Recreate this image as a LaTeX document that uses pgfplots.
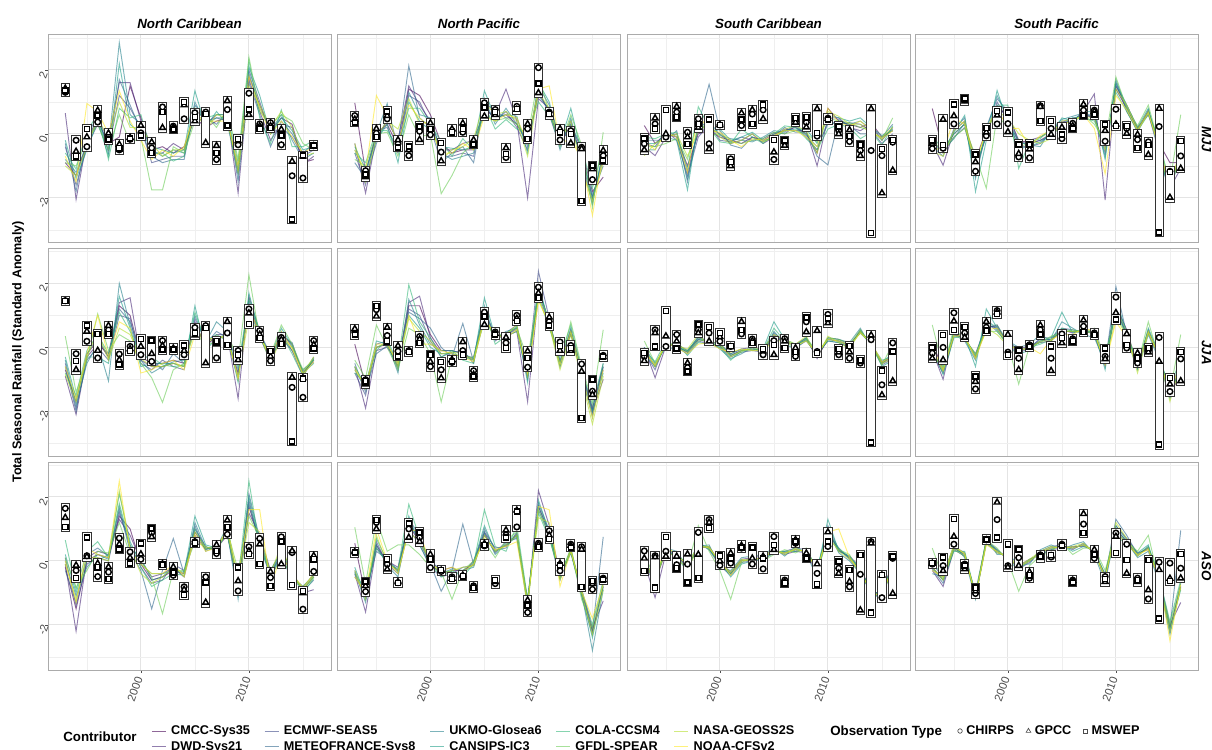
\documentclass[border=0pt]{standalone}
\usepackage{fontspec}
\setmainfont{Liberation Sans}
\usepackage{pgfplots}
\usepackage{pgfplotstable}
\pgfplotsset{compat=1.18}

% contributor colours (viridis)
\definecolor{vCMCC}{HTML}{440154}
\definecolor{vDWD}{HTML}{482878}
\definecolor{vECMWF}{HTML}{3E4A89}
\definecolor{vMETEO}{HTML}{31688E}
\definecolor{vUKMO}{HTML}{26828E}
\definecolor{vCANSIPS}{HTML}{1F9E89}
\definecolor{vCOLA}{HTML}{35B779}
\definecolor{vGFDL}{HTML}{6DCD59}
\definecolor{vNASA}{HTML}{B4DE2C}
\definecolor{vNOAA}{HTML}{FDE725}
\definecolor{tickgray}{HTML}{4D4D4D}
\definecolor{gridgray}{HTML}{E4E4E4}
\definecolor{framegray}{HTML}{ABABAB}

% white box spanning the observation range of one season
\pgfdeclareplotmark{obsbox}{%
  \pgfpathrectangle{\pgfpoint{-3.1pt}{-3.4pt}}{\pgfpoint{6.2pt}{\boxh pt+6.8pt}}%
  \pgfusepathqfillstroke}

\pgfplotsset{
  mline/.style={no markers, line width=0.7pt, draw opacity=0.6},
  obsmark/.style={only marks, mark options={draw=black, fill=white, line width=1.1pt}},
  obsboxes/.style={scatter, only marks, mark=obsbox,
    scatter/use mapped color={draw=black!80, fill=white},
    mark options={line width=0.75pt},
    visualization depends on={(max(\thisrow{C},\thisrow{G},\thisrow{M})-min(\thisrow{C},\thisrow{G},\thisrow{M}))*24 \as \boxh}},
  panel/.style={
    anchor=south west, scale only axis, width=212.25pt, height=156pt,
    xmin=1991.4, xmax=2017.6, ymin=-3.41, ymax=3.09,
    xtick={2000,2010}, minor xtick={1995,2005,2015},
    ytick={-2,0,2}, minor ytick={-3,-1,1,3},
    xticklabels={}, yticklabels={},
    grid=both,
    major grid style={draw=gridgray, line width=0.8pt},
    minor grid style={draw=gridgray!60, line width=0.4pt},
    axis line style={draw=framegray, line width=0.75pt},
    tick align=outside, tick pos=left,
    major tick length=2.2pt, minor tick length=0pt,
    xtick style={draw=none}, ytick style={draw=none},
    ticklabel style={font=\fontsize{8.5}{10}\selectfont, text=tickgray},
    yticklabel style={rotate=70, anchor=center, xshift=-4pt},
    xticklabel style={rotate=70, anchor=east},
    every axis title shift=0pt,
    title style={font=\bfseries\itshape\fontsize{10}{12}\selectfont, at={(0.5,1)}, anchor=south, inner sep=0pt, yshift=4.5pt},
  },
  leftcol/.style={yticklabels={-2,0,2}, ytick style={draw=tickgray, line width=0.5pt}},
  bottomrow/.style={xticklabels={2000,2010}, xtick style={draw=tickgray, line width=0.5pt}},
  rightcol/.style={extra description/.code={\node[rotate=-90, font=\bfseries\itshape\fontsize{10}{12}\selectfont] at (1.03,0.5) {#1};}},
}

\newcommand{\panel}[4]{%
\begin{axis}[panel, at={(#1)}, #4]
\addplot[mline, vCMCC] table[x=yr, y=c1] {#2};
\addplot[mline, vDWD] table[x=yr, y=c2] {#2};
\addplot[mline, vECMWF] table[x=yr, y=c3] {#2};
\addplot[mline, vMETEO] table[x=yr, y=c4] {#2};
\addplot[mline, vUKMO] table[x=yr, y=c5] {#2};
\addplot[mline, vCANSIPS] table[x=yr, y=c6] {#2};
\addplot[mline, vCOLA] table[x=yr, y=c7] {#2};
\addplot[mline, vGFDL] table[x=yr, y=c8] {#2};
\addplot[mline, vNASA] table[x=yr, y=c9] {#2};
\addplot[mline, vNOAA] table[x=yr, y=c10] {#2};
\addplot[obsboxes] table[x=yr, y expr={min(\thisrow{C},\thisrow{G},\thisrow{M})}] {#3};
\addplot[obsmark, mark=*, mark size=2.1pt] table[x=yr, y=C] {#3};
\addplot[obsmark, mark=triangle*, mark size=2.5pt] table[x=yr, y=G] {#3};
\addplot[obsmark, mark=square*, mark size=1.9pt] table[x=yr, y=M] {#3};
\end{axis}}

% ---------------- forecasts: North Caribbean ----------------
\pgfplotstableread{
yr c1 c2 c3 c4 c5 c6 c7 c8 c9 c10
1993 -0.9 0.65 -0.4 -0.3 -0.8 -0.2 -0.6 -0.9 -1.0 -0.7
1994 -1.3 -2.05 -1.6 -1.8 -1.2 -1.4 -1.1 -1.0 -1.3 -1.5
1995 -0.3 -0.2 -0.4 -0.1 -0.3 -0.5 0.1 -0.2 -0.4 0.95
1996 0.4 0.5 0.3 0.6 0.5 0.4 0.6 0.3 0.5 0.7
1997 -0.3 -0.2 -0.5 -0.6 -0.4 -0.7 -0.8 -0.5 -0.15 0.0
1998 -0.1 1.6 1.2 1.7 2.85 2.2 0.8 0.6 1.0 1.35
1999 1.5 1.6 0.8 0.9 0.6 0.3 0.5 -0.3 0.2 0.4
2000 0.5 0.4 0.2 0.1 0.3 0.0 0.6 -0.1 0.2 -0.2
2001 -0.5 -0.6 -0.9 -0.7 -0.5 -0.4 -0.6 -1.75 -0.3 -0.8
2002 -0.4 -0.6 -0.8 -0.9 -0.7 -0.5 -0.6 -1.75 -0.7 -0.5
2003 -0.6 -0.3 -0.7 -0.8 -0.5 -0.6 -0.85 -0.4 -0.5 -0.7
2004 -0.4 -0.5 -0.7 -0.8 -0.6 -0.5 -0.7 -0.6 -0.5 -0.4
2005 0.5 0.6 0.8 0.9 1.0 1.35 0.7 0.4 0.8 0.6
2006 0.2 0.3 0.4 0.5 0.3 0.2 0.5 0.6 0.1 0.4
2007 0.4 0.6 0.5 0.3 0.5 0.7 0.6 0.2 0.6 0.4
2008 0.5 0.6 0.4 0.7 0.5 0.3 0.6 0.8 0.5 0.4
2009 -1.2 -1.85 -1.0 -1.5 -1.3 -1.1 -0.9 -0.8 -1.2 -1.0
2010 1.8 1.7 2.0 1.6 1.9 2.1 2.3 2.4 1.5 1.8
2011 0.9 0.7 1.0 0.6 0.8 1.2 0.5 0.7 0.9 0.8
2012 0.1 -0.2 0.0 -0.4 0.1 0.0 -0.3 0.3 0.2 0.0
2013 0.5 0.3 0.2 0.4 0.6 0.5 0.75 0.6 0.7 0.4
2014 0.3 0.2 -0.1 0.0 -0.2 0.1 -0.4 0.4 0.2 -0.1
2015 -0.9 -0.95 -0.7 -0.6 -0.8 -0.5 -0.4 -0.3 -0.7 -0.6
2016 -0.8 -0.7 -0.5 -0.3 -0.6 -0.4 -0.2 -0.5 -0.6 -0.4
}\NCmjj
\pgfplotstableread{
yr c1 c2 c3 c4 c5 c6 c7 c8 c9 c10
1993 -0.7 -0.9 -0.5 -0.6 -0.4 -0.3 -0.8 0.35 -0.85 -0.6
1994 -1.7 -2.1 -1.9 -2.0 -1.8 -1.6 -1.5 -1.4 -1.7 -1.6
1995 -0.2 -0.3 -0.4 -0.2 -0.5 -0.3 -0.1 -0.4 -0.3 -0.2
1996 0.2 0.1 0.0 0.3 0.1 -0.3 0.4 1.05 0.5 1.0
1997 -0.3 -0.2 -0.4 -0.3 -1.05 -0.5 -0.2 -0.1 -0.4 -0.3
1998 1.3 1.4 1.0 1.2 2.0 1.6 1.1 0.4 0.6 0.8
1999 1.0 1.55 0.9 0.8 0.7 0.6 0.5 0.2 0.4 0.6
2000 -0.3 -0.4 -0.5 -0.2 -0.4 -0.6 -0.3 -0.5 -0.35 -0.8
2001 -0.5 -0.6 -0.7 -0.4 -0.8 -0.5 -0.3 -0.95 -0.6 -0.7
2002 -0.5 -0.6 -0.4 -0.7 -0.6 -0.5 -0.55 -1.72 -0.6 -0.5
2003 -0.4 -0.5 -0.6 -0.2 -0.45 -0.5 -0.6 -0.7 -0.5 -0.4
2004 -0.5 -0.6 -0.7 -0.5 -0.4 -0.6 -0.55 -0.5 -0.6 -0.7
2005 0.7 0.8 0.9 0.6 1.0 1.3 1.1 0.5 0.7 0.4
2006 0.1 0.0 0.2 0.1 0.15 -0.1 0.2 0.05 0.1 0.25
2007 0.3 0.4 0.3 0.5 0.8 0.3 0.4 0.2 0.35 0.3
2008 0.3 0.4 0.35 0.3 0.5 0.4 0.2 0.45 0.3 0.35
2009 -0.8 -1.6 -0.9 -1.0 -0.7 -1.1 -0.6 -0.4 -0.9 -1.0
2010 1.3 1.6 1.5 1.4 1.2 1.7 1.5 2.27 0.9 1.3
2011 0.4 0.5 0.3 0.45 0.35 0.4 0.5 0.3 0.45 0.4
2012 -0.3 -0.4 -0.35 -0.2 -0.45 -0.3 -0.4 -0.25 -0.5 -0.35
2013 0.4 0.3 0.5 0.35 0.45 0.6 0.4 0.7 0.3 0.5
2014 0.1 -0.1 0.0 0.15 -0.1 0.05 -0.2 0.1 0.0 -0.05
2015 -0.8 -0.9 -0.75 -0.85 -0.7 -0.8 -0.9 -0.7 -0.8 -0.85
2016 -0.4 -0.35 -0.45 -0.3 -0.4 -0.5 -0.35 -0.4 -0.3 -0.45
}\NCjja
\pgfplotstableread{
yr c1 c2 c3 c4 c5 c6 c7 c8 c9 c10
1993 -0.2 -0.1 0.1 -0.3 0.0 0.2 0.65 0.1 -0.1 0.0
1994 -1.5 -2.2 -1.4 -1.3 -1.1 -1.0 -0.9 -0.83 -1.2 -1.3
1995 0.0 0.1 -0.1 0.2 -0.2 0.0 0.3 -0.3 0.1 0.4
1996 0.2 0.3 0.1 0.4 0.2 0.0 0.6 0.3 0.1 0.2
1997 0.1 0.2 0.0 0.15 0.05 0.2 0.1 0.25 0.0 0.1
1998 1.4 1.3 1.5 1.6 1.7 2.1 1.8 1.2 2.2 2.5
1999 1.0 0.8 0.5 0.3 0.4 0.6 0.5 0.2 0.4 0.3
2000 -0.1 0.0 -0.2 -0.3 0.1 -0.1 -0.2 0.0 -0.4 -0.1
2001 -0.6 -0.5 -0.7 -1.5 -0.6 -0.4 -0.8 -0.5 -0.7 -0.4
2002 -0.5 -0.4 -0.6 -0.3 -0.5 -0.4 -0.6 -1.65 -0.5 -0.4
2003 -0.3 -0.2 -0.1 0.7 -0.2 -0.3 -0.4 -0.3 -0.2 -0.1
2004 -0.4 -0.5 -0.3 -0.4 -0.5 -0.35 -0.45 -0.3 -0.4 -0.5
2005 0.9 0.8 1.0 1.1 1.2 1.4 1.0 0.6 0.9 0.8
2006 0.4 0.35 0.45 0.3 0.4 0.5 0.35 0.45 0.4 0.3
2007 0.4 0.5 0.3 0.45 0.35 0.4 0.5 0.3 0.45 0.4
2008 0.8 0.9 1.0 0.85 0.9 1.1 0.8 0.95 0.9 1.0
2009 -0.6 -0.8 -0.7 -0.9 -1.2 -0.7 -0.6 -0.3 -0.7 -0.5
2010 1.7 1.5 1.9 2.1 1.8 2.0 2.5 1.4 1.2 1.6
2011 0.6 0.8 0.5 0.7 0.5 0.6 0.4 0.7 0.9 1.6
2012 -0.4 -0.3 -0.5 -0.35 -0.45 -0.4 -0.3 -0.5 -0.4 -0.8
2013 0.2 0.3 0.1 0.25 0.15 0.2 0.3 0.1 0.5 0.2
2014 -0.4 -0.3 -0.5 -0.35 -0.6 -0.4 -0.3 -0.5 -0.45 -0.4
2015 -0.9 -1.0 -0.8 -0.95 -0.85 -0.9 -1.0 -0.8 -0.9 -0.85
2016 -0.5 -0.9 -0.45 -0.6 -0.4 -0.5 -0.55 -0.45 -0.5 -0.4
}\NCaso
% ---------------- forecasts: North Pacific ----------------
\pgfplotstableread{
yr c1 c2 c3 c4 c5 c6 c7 c8 c9 c10
1993 0.97 -0.3 -0.6 -0.9 -0.5 -0.4 -0.6 -0.8 -0.3 -0.5
1994 -1.2 -1.85 -1.6 -1.4 -1.3 -1.1 -0.9 -1.0 -1.5 -1.2
1995 0.0 -0.1 0.1 -0.3 0.0 -0.2 0.1 0.0 -0.1 1.2
1996 0.3 0.4 0.2 0.5 0.95 0.3 0.1 0.05 0.4 0.55
1997 -0.4 -0.2 -0.6 -0.3 -0.5 -0.9 -0.4 -0.7 0.15 -0.3
1998 1.4 1.5 1.2 2.13 1.3 1.0 0.8 0.6 1.1 0.9
1999 1.2 0.9 1.0 0.5 0.6 0.4 0.8 -0.1 0.3 0.5
2000 0.6 0.4 0.3 0.2 0.5 0.1 0.3 0.0 0.4 0.2
2001 -0.3 -0.5 -0.7 -0.9 -0.6 -0.4 -0.25 -1.87 -0.8 -0.6
2002 -0.6 -0.5 -0.7 -0.6 -0.8 -0.45 -0.7 -1.3 -0.5 -0.6
2003 -0.5 -0.3 -0.6 -0.4 -0.7 -0.5 -0.15 -0.6 -0.4 -0.3
2004 -0.5 -0.2 -0.7 -0.9 -0.6 -0.4 -0.5 -0.3 -0.15 -0.5
2005 0.8 0.7 0.9 1.0 1.1 1.35 0.9 0.6 1.0 0.55
2006 0.5 0.6 0.4 0.7 0.3 0.5 0.15 0.4 0.6 0.4
2007 0.6 1.4 0.7 0.5 0.8 0.6 0.45 0.5 0.7 0.6
2008 0.3 0.4 0.2 0.5 0.3 0.55 0.15 0.3 0.4 0.5
2009 -0.3 -2.0 -0.5 -0.4 -0.2 -0.6 0.05 -0.1 -0.7 -0.3
2010 1.3 1.1 1.4 1.5 1.2 1.6 1.0 1.8 1.3 1.4
2011 0.7 0.8 0.6 0.9 0.75 1.0 0.55 0.7 0.8 1.5
2012 -0.3 -0.2 -0.4 -0.1 -0.5 -0.3 -0.05 -0.4 -0.2 -0.3
2013 0.3 0.1 0.4 0.2 0.5 0.8 0.3 0.6 0.4 -0.15
2014 -0.5 -0.6 -0.8 -0.7 -0.9 -0.6 -0.4 -0.35 -1.1 -0.8
2015 -1.8 -2.0 -2.1 -1.9 -2.2 -2.0 -1.7 -2.3 -2.1 -2.55
2016 -1.35 -0.8 -0.6 -1.0 -0.5 -0.7 -0.4 0.05 -0.9 -0.6
}\NPmjj
\pgfplotstableread{
yr c1 c2 c3 c4 c5 c6 c7 c8 c9 c10
1993 0.1 -0.6 -0.8 -0.5 -0.7 -0.6 -0.8 -0.4 -0.6 -0.7
1994 -1.2 -1.9 -1.5 -1.4 -1.3 -1.2 -1.1 -0.96 -1.3 -1.2
1995 0.0 -0.1 0.1 -0.2 0.0 0.2 -0.1 0.7 0.0 0.1
1996 0.1 0.0 0.2 0.05 0.15 0.1 0.25 0.0 0.15 0.1
1997 -0.6 -0.5 -0.7 -0.4 -0.8 -0.6 -0.5 -0.7 -0.6 -0.5
1998 1.3 1.4 1.2 1.1 1.5 1.0 1.96 0.6 0.9 1.0
1999 1.3 1.6 1.0 0.9 0.7 0.6 0.8 0.4 0.5 0.1
2000 0.4 0.3 0.2 0.6 0.1 0.0 0.3 -0.2 0.2 0.1
2001 -0.1 -0.2 -0.3 0.0 -0.1 -0.2 -0.3 -1.7 -0.2 -0.1
2002 -0.1 -0.2 -0.15 -0.3 -0.1 -0.2 -0.1 -0.3 -0.15 -0.2
2003 -0.2 -0.3 -0.1 0.75 -0.2 -0.3 -0.4 -0.35 -0.2 -0.3
2004 -0.4 -0.3 -0.5 -0.45 -0.35 -0.4 -0.5 -0.3 -0.4 -0.45
2005 1.0 1.1 1.2 0.9 1.3 1.55 1.2 0.8 1.0 0.9
2006 0.3 0.4 0.2 0.35 0.25 0.3 0.1 0.35 0.3 0.4
2007 0.4 0.35 0.45 0.4 0.5 0.4 0.35 0.45 0.4 0.3
2008 0.6 0.5 0.7 0.55 0.6 0.65 0.5 0.6 0.7 0.55
2009 -0.9 -1.7 -0.8 -1.0 -0.7 -1.1 -0.6 -0.35 -0.9 -0.8
2010 1.8 1.7 2.38 1.9 1.8 2.0 1.6 1.7 1.5 1.45
2011 0.8 0.7 0.9 0.75 0.8 0.7 0.6 0.85 0.7 0.75
2012 -0.5 -0.4 -0.6 -0.5 -0.45 -0.6 -0.3 -0.5 -0.7 -0.55
2013 0.5 0.4 0.55 0.45 0.6 0.5 0.7 0.8 0.4 0.5
2014 -0.7 -0.8 -0.9 -0.75 -0.85 -0.9 -0.7 -0.6 -1.0 -0.8
2015 -1.9 -2.0 -2.1 -1.95 -2.2 -2.0 -1.8 -1.7 -2.4 -2.2
2016 -0.6 -1.0 -0.7 -0.5 -0.6 -0.8 -0.5 0.55 -0.9 -0.7
}\NPjja
\pgfplotstableread{
yr c1 c2 c3 c4 c5 c6 c7 c8 c9 c10
1993 0.55 -0.4 -0.3 -0.5 -0.35 -0.2 -0.4 1.05 -0.3 -0.5
1994 -1.1 -1.6 -1.2 -1.0 -1.3 -1.1 -0.9 -0.73 -1.2 -1.0
1995 0.5 0.4 0.6 0.3 0.5 0.7 0.4 1.3 0.8 1.0
1996 -0.05 0.0 -0.1 0.05 -0.15 0.0 -0.05 0.3 -0.1 0.0
1997 -0.3 -0.2 -0.4 -0.3 -0.5 -0.35 -0.25 0.5 -0.3 -0.4
1998 1.1 1.2 1.0 1.3 1.2 1.4 1.77 0.5 0.9 1.0
1999 0.6 0.7 0.5 0.8 0.6 0.5 0.7 0.2 0.6 0.9
2000 -0.1 0.0 -0.2 -0.1 0.05 -0.15 -0.1 -0.2 0.0 -0.1
2001 -0.4 -0.3 -0.5 -0.95 -0.4 -0.3 -0.5 -0.35 -0.4 -0.3
2002 -0.3 -0.2 -0.4 -0.3 -0.25 -0.35 -0.3 -1.2 -0.3 -0.2
2003 -0.3 -0.4 -0.2 1.15 -0.3 -0.4 -0.5 -0.3 -0.2 -0.35
2004 -0.1 0.0 -0.15 -0.1 -0.2 -0.05 -0.1 0.0 -0.15 -0.1
2005 0.8 0.9 0.85 1.0 0.9 1.1 1.6 0.6 0.8 0.7
2006 0.3 0.4 0.25 0.35 0.2 0.3 0.45 0.1 0.3 0.35
2007 0.5 0.45 0.6 0.4 0.55 0.5 0.3 0.65 0.5 0.45
2008 0.8 0.85 0.7 0.9 0.8 0.75 1.1 0.9 0.8 0.6
2009 -1.3 -1.4 -1.2 -1.35 -1.3 -1.45 -1.2 -1.25 -1.3 -1.4
2010 1.7 2.2 1.6 1.8 1.7 1.9 1.5 1.6 1.35 1.7
2011 0.9 1.1 0.8 0.95 0.85 0.9 0.7 0.8 1.2 1.6
2012 -0.5 -0.4 -0.6 -0.45 -0.5 -0.55 -0.4 -0.5 -0.6 -0.8
2013 0.3 0.25 0.35 0.3 0.4 0.25 0.3 0.35 0.4 0.3
2014 -1.0 -0.9 -1.1 -0.95 -1.0 -1.05 -0.9 -1.2 -1.0 -0.95
2015 -2.2 -2.1 -2.3 -2.2 -2.8 -2.4 -2.0 -2.1 -2.3 -1.8
2016 -0.8 -1.25 -0.7 0.75 -0.9 -0.8 -0.6 -0.7 -0.9 -0.75
}\NPaso
% ---------------- forecasts: South Caribbean ----------------
\pgfplotstableread{
yr c1 c2 c3 c4 c5 c6 c7 c8 c9 c10
1993 0.26 -0.4 -0.3 -0.2 -0.5 -0.3 -0.1 -0.4 -0.68 -0.2
1994 -0.3 -0.68 -0.4 -0.2 -0.5 -0.3 -0.15 -0.4 -0.3 -0.5
1995 0.0 -0.1 0.1 -0.2 0.15 -0.1 0.0 -0.3 -0.1 0.05
1996 -0.1 0.0 -0.2 0.1 -0.1 -0.2 0.05 -0.15 0.0 -0.1
1997 -1.0 -1.2 -1.3 -1.5 -1.4 -1.75 -1.1 -0.8 -0.7 -1.2
1998 0.0 0.1 -0.1 0.3 0.2 0.4 0.85 0.5 0.1 0.6
1999 0.1 0.2 0.3 1.55 0.4 0.0 0.2 -0.05 0.3 0.1
2000 -0.1 0.0 -0.2 0.1 -0.05 0.15 -0.25 0.0 -0.1 0.05
2001 -0.2 -0.3 -0.25 -0.35 -0.15 -0.2 -0.3 -0.25 -0.3 -0.2
2002 -0.3 -0.2 -0.1 -0.45 -0.2 -0.1 0.15 -0.3 -0.2 -0.4
2003 -0.1 0.0 -0.2 -0.1 -0.25 0.05 -0.1 -0.2 0.0 -0.15
2004 -0.2 -0.3 -0.15 -0.25 -0.1 -0.2 -0.3 -0.15 -0.25 -0.2
2005 0.0 -0.1 0.05 -0.05 0.1 -0.15 0.0 0.05 -0.1 -0.05
2006 0.1 0.15 0.0 0.2 0.05 0.1 0.25 0.0 0.15 0.1
2007 0.2 0.1 0.25 0.05 0.3 0.15 0.2 0.1 0.25 0.1
2008 0.0 0.1 -0.1 0.05 -0.05 0.15 -0.15 0.0 0.1 -0.1
2009 -0.6 -1.0 -0.5 -0.7 -0.4 -0.3 -0.5 -0.25 -0.6 -0.4
2010 0.8 0.5 0.4 -0.97 0.3 0.6 0.15 0.5 0.7 0.8
2011 0.4 0.5 0.3 0.45 0.35 0.5 0.3 0.4 0.55 0.35
2012 0.3 0.2 0.35 0.25 0.3 0.4 0.2 0.35 0.3 0.25
2013 0.2 0.1 0.3 0.0 0.4 0.5 -0.15 0.2 0.3 0.4
2014 0.35 0.3 0.1 0.0 0.15 0.2 0.05 0.1 0.0 0.1
2015 -0.1 -0.2 -0.3 -0.1 -0.15 -0.05 -0.35 -0.2 -0.1 -0.15
2016 0.1 0.2 0.0 0.3 0.15 0.1 0.25 0.5 0.2 0.1
}\SCmjj
\pgfplotstableread{
yr c1 c2 c3 c4 c5 c6 c7 c8 c9 c10
1993 -0.1 0.0 -0.15 -0.1 0.0 -0.2 -0.1 0.2 -0.05 -0.15
1994 -0.6 -0.95 -0.7 -0.55 -0.5 -0.6 -0.45 -0.5 -0.6 -0.55
1995 0.1 0.05 0.15 0.1 0.0 0.1 0.2 0.05 0.1 0.15
1996 0.05 0.1 0.0 0.05 -0.05 0.1 0.0 0.15 0.05 0.0
1997 -0.15 -0.1 -0.2 -0.15 -0.1 -0.25 -0.1 -0.15 -0.05 -0.2
1998 0.25 0.3 0.2 0.35 0.25 0.15 0.3 0.2 0.4 0.1
1999 0.15 0.2 0.1 0.15 0.2 0.1 0.15 0.25 0.05 0.15
2000 0.05 0.1 0.0 0.05 -0.05 0.1 0.0 0.05 0.1 -0.05
2001 -0.25 -0.2 -0.3 -0.25 -0.35 -0.2 -0.4 -0.25 -0.3 -0.15
2002 -0.1 -0.05 -0.15 -0.1 -0.2 -0.05 -0.1 -0.15 -0.1 -0.05
2003 -0.05 0.0 -0.1 -0.05 0.0 -0.1 -0.05 0.05 -0.05 -0.1
2004 -0.1 -0.05 -0.15 -0.1 -0.2 -0.05 -0.1 -0.15 -0.05 -0.1
2005 0.3 0.4 0.35 0.45 0.5 0.8 0.6 0.3 0.4 0.2
2006 0.2 0.15 0.25 0.2 0.1 0.25 0.2 0.15 0.25 0.2
2007 0.05 0.1 0.0 0.05 -0.05 0.1 0.05 0.0 0.1 0.05
2008 0.25 0.3 0.2 0.3 0.25 0.2 0.3 0.25 0.35 0.2
2009 -0.3 -0.35 -0.2 -0.25 -0.3 -0.2 -0.15 -0.25 -0.3 -0.2
2010 0.25 0.3 0.2 0.25 0.3 0.2 0.25 0.3 0.35 0.25
2011 0.2 0.25 0.15 0.2 0.25 0.15 0.2 0.25 0.15 0.2
2012 0.05 0.1 0.0 0.05 0.15 0.0 0.05 0.1 -0.05 0.05
2013 0.5 0.45 0.55 0.5 0.6 0.5 0.45 0.55 0.5 0.45
2014 0.1 0.15 0.05 0.1 0.0 0.15 0.1 0.05 0.1 0.15
2015 -0.45 -0.5 -0.55 -0.5 -0.45 -0.6 -0.4 -0.55 -0.5 -0.45
2016 -0.3 -0.25 -0.35 -0.3 -0.2 -0.4 -0.3 0.1 -0.35 -0.3
}\SCjja
\pgfplotstableread{
yr c1 c2 c3 c4 c5 c6 c7 c8 c9 c10
1993 -0.1 -0.05 -0.15 -0.1 0.0 -0.2 -0.1 0.2 -0.1 -0.05
1994 -0.6 -1.15 -0.7 -0.5 -0.6 -0.5 -0.4 -0.55 -0.6 -0.5
1995 0.3 0.25 0.35 0.3 0.4 0.3 0.25 0.35 0.3 0.45
1996 0.2 0.15 0.25 0.2 0.3 0.15 0.2 0.25 0.1 0.2
1997 -0.2 -0.15 -0.25 -0.3 -0.2 -0.35 -0.1 -0.2 -0.25 -0.15
1998 0.5 0.4 0.55 0.5 0.45 0.6 0.5 1.1 0.4 0.5
1999 0.4 0.45 0.35 0.4 0.5 0.35 0.4 0.3 0.45 0.4
2000 -0.1 -0.05 -0.15 -0.1 -0.2 -0.05 -0.1 -0.3 -0.1 0.0
2001 -0.4 -0.35 -0.45 -0.4 -0.3 -0.5 -0.4 -1.2 -0.35 -0.45
2002 0.0 0.05 -0.05 0.0 0.1 -0.1 0.0 -0.05 0.05 0.0
2003 0.05 0.1 0.0 0.05 0.15 0.0 0.05 0.1 0.0 0.05
2004 0.1 0.15 0.05 0.1 0.2 0.05 0.1 0.0 0.15 0.1
2005 0.3 0.35 0.25 0.3 0.4 0.25 0.3 0.2 0.35 0.3
2006 0.25 0.2 0.3 0.25 0.15 0.3 0.25 0.35 0.2 0.25
2007 0.35 0.3 0.4 0.35 0.45 0.3 0.35 0.25 0.4 0.35
2008 0.3 0.25 0.35 0.3 0.2 0.35 0.3 0.4 0.25 0.3
2009 -0.3 -0.4 -0.25 -0.3 -0.5 -0.35 -0.2 -0.3 -0.25 -0.3
2010 0.9 1.0 0.85 1.1 0.95 1.3 0.9 0.7 0.8 0.9
2011 0.35 0.3 0.4 0.35 0.25 0.3 0.4 0.35 0.3 1.0
2012 0.1 0.15 0.05 0.1 0.0 0.15 0.1 0.2 0.05 0.1
2013 -0.3 -0.2 -0.35 -0.25 -0.4 -0.3 -0.2 -0.5 -0.3 -0.35
2014 -0.9 -1.0 -0.95 -1.1 -1.0 -0.9 -1.05 -0.85 -1.0 -0.95
2015 -1.1 -1.0 -1.15 -1.05 -1.2 -1.1 -1.0 -1.25 -1.1 -1.15
2016 -0.1 -0.05 -0.15 -0.1 0.0 -0.2 -0.1 -0.05 -0.15 -0.1
}\SCaso
% ---------------- forecasts: South Pacific ----------------
\pgfplotstableread{
yr c1 c2 c3 c4 c5 c6 c7 c8 c9 c10
1993 0.79 -0.3 -0.2 -0.4 -0.5 -0.3 -0.1 -0.2 -0.55 -0.35
1994 -0.5 -0.98 -0.6 -0.7 -0.5 -0.6 -0.46 -0.55 -0.7 -0.6
1995 0.0 0.1 -0.1 0.15 -0.15 0.05 0.0 -0.1 0.1 0.5
1996 0.3 0.4 0.2 0.5 0.35 0.58 0.3 0.17 0.4 0.3
1997 -0.8 -1.2 -1.0 -1.3 -1.4 -1.8 -1.1 -0.67 -0.9 -1.0
1998 0.1 0.0 -0.1 0.2 0.1 -0.2 0.0 -1.7 0.1 0.15
1999 0.8 0.9 1.0 1.1 1.2 1.36 0.9 0.58 0.7 0.8
2000 0.6 0.5 0.4 0.7 0.5 0.3 0.9 0.2 0.5 0.17
2001 -0.2 -0.3 -0.4 -0.3 -0.5 -0.2 -1.08 -0.4 0.0 0.17
2002 -0.3 -0.2 -0.4 -0.3 -0.35 -0.4 -0.25 -0.3 -0.2 -0.4
2003 -0.2 -0.1 -0.3 -0.2 -0.4 -0.25 -0.15 -0.1 -0.3 -0.05
2004 0.0 0.1 0.05 -0.1 0.15 0.0 0.2 0.05 -0.15 0.1
2005 0.3 0.4 0.35 0.3 0.45 0.5 0.25 0.35 0.4 0.3
2006 0.45 0.4 0.5 0.45 0.55 0.4 0.5 0.35 0.45 0.4
2007 0.6 0.7 0.55 0.6 0.65 0.7 0.5 0.6 0.55 0.6
2008 0.5 1.25 0.6 0.5 0.55 0.7 0.4 0.3 0.5 0.17
2009 -0.4 -2.07 -0.6 -0.5 -0.7 -0.8 -0.3 -0.25 -0.5 -1.25
2010 1.4 1.5 1.6 1.5 1.7 1.6 1.3 1.78 1.4 1.2
2011 0.8 0.9 0.7 0.85 0.75 0.9 0.7 0.8 0.9 0.75
2012 0.15 0.2 0.1 0.15 0.05 0.2 0.1 0.25 0.15 0.1
2013 0.7 0.6 0.75 0.65 0.7 0.8 0.6 0.9 0.7 0.65
2014 -0.3 -0.4 -0.5 -0.6 -0.3 -0.4 -0.2 -0.35 -0.5 -0.4
2015 -0.9 -1.7 -1.8 -1.9 -2.1 -2.0 -1.6 -1.5 -1.8 -1.7
2016 -0.9 -1.08 -0.5 -0.4 -0.2 -0.3 -0.6 0.6 -0.5 -0.4
}\SPmjj
\pgfplotstableread{
yr c1 c2 c3 c4 c5 c6 c7 c8 c9 c10
1993 0.15 -0.1 -0.2 -0.1 -0.15 -0.05 -0.2 0.7 -0.1 0.0
1994 -0.7 -1.0 -0.8 -0.75 -0.7 -0.85 -0.6 -0.65 -0.75 -0.7
1995 0.4 0.45 0.35 0.5 0.4 0.3 0.45 0.6 0.35 0.4
1996 0.3 0.25 0.35 0.3 0.2 0.35 0.3 0.25 0.3 0.35
1997 -0.3 -0.2 -0.35 -0.3 -0.4 -0.6 -0.25 -0.2 -0.3 -0.35
1998 0.6 0.7 0.65 0.8 0.9 1.2 0.7 0.5 0.6 0.55
1999 0.7 0.6 0.65 0.5 0.55 0.6 0.7 0.5 0.4 0.6
2000 0.1 0.15 0.05 0.1 0.2 0.0 0.15 0.1 0.05 0.1
2001 -0.1 -0.05 -0.15 -0.1 0.0 -0.2 -0.1 -1.15 -0.05 -0.1
2002 0.0 0.05 -0.05 0.0 0.1 -0.1 0.0 0.05 -0.05 0.0
2003 0.2 0.15 0.3 0.25 0.4 0.2 0.1 0.15 0.2 -0.2
2004 0.25 0.2 0.3 0.25 0.2 0.3 0.25 0.35 0.2 0.25
2005 0.5 0.55 0.6 0.5 0.8 1.1 0.6 0.45 0.5 0.4
2006 0.5 0.45 0.55 0.5 0.6 0.45 0.5 0.55 0.5 0.4
2007 0.5 0.55 0.45 0.5 0.4 0.5 0.55 0.45 0.5 0.6
2008 0.45 0.4 0.5 0.45 0.3 0.5 0.4 0.6 0.45 0.5
2009 -0.5 -0.6 -0.4 -0.5 -0.45 -0.7 -0.4 -0.35 -0.5 -0.55
2010 1.3 1.2 1.4 1.9 1.3 1.5 1.1 1.2 0.9 0.8
2011 0.55 0.4 0.35 0.4 0.3 0.45 0.35 0.5 0.4 0.3
2012 -0.6 -0.5 -0.65 -0.55 -0.7 -0.6 -0.5 -0.55 -0.8 -0.6
2013 0.5 0.45 0.55 0.5 0.4 0.6 0.5 0.8 0.45 0.5
2014 -0.3 -0.25 -0.35 -0.3 -0.4 -0.2 -0.3 -0.35 -0.25 -0.3
2015 -1.4 -1.5 -1.55 -1.45 -1.6 -1.5 -1.3 -1.4 -1.7 -1.5
2016 -0.9 -0.6 -0.5 -0.4 -0.5 -0.6 -0.3 0.4 -0.5 -0.4
}\SPjja
\pgfplotstableread{
yr c1 c2 c3 c4 c5 c6 c7 c8 c9 c10
1993 -0.2 -0.3 -0.1 -0.25 -0.4 -0.2 -0.1 0.4 -0.2 -0.3
1994 -0.6 -0.8 -0.5 -0.7 -0.5 -0.6 -0.4 -0.55 -0.6 -0.5
1995 0.4 0.35 0.45 0.4 0.5 0.3 0.45 0.35 0.4 0.5
1996 0.2 0.15 0.25 0.2 0.1 0.3 0.2 0.15 0.25 0.2
1997 -1.1 -1.0 -1.15 -1.1 -1.2 -1.05 -1.1 -1.0 -1.15 -1.1
1998 0.6 0.65 0.55 0.6 0.7 0.6 0.55 0.65 0.6 0.5
1999 0.3 0.35 0.25 0.3 0.2 0.35 0.3 0.4 0.25 0.3
2000 0.1 0.05 0.15 0.1 0.2 0.05 0.1 0.0 0.15 0.1
2001 -0.2 -0.15 -0.25 -0.2 -0.1 -0.3 -0.2 -0.95 -0.15 -0.2
2002 0.0 0.05 -0.05 0.0 -0.1 0.05 0.0 -0.15 0.05 0.0
2003 0.25 0.2 0.3 0.25 0.35 0.2 0.25 0.15 0.3 0.25
2004 0.4 0.35 0.45 0.4 0.5 0.35 0.4 0.3 0.45 0.4
2005 0.45 0.4 0.5 0.45 0.35 0.5 0.45 0.55 0.4 0.45
2006 0.4 0.45 0.35 0.4 0.5 0.3 0.4 0.2 0.45 0.4
2007 0.5 0.45 0.55 0.5 0.6 0.45 0.5 0.4 0.55 0.5
2008 0.3 0.35 0.25 0.3 0.2 0.35 0.3 0.4 0.25 0.3
2009 -0.5 -0.6 -0.4 -0.5 -0.7 -0.45 -0.5 -0.3 -0.55 -0.5
2010 1.0 1.1 0.9 1.3 1.0 1.1 0.8 0.9 1.2 0.9
2011 0.6 0.7 0.55 0.8 0.6 0.65 0.5 0.6 0.7 0.5
2012 0.2 0.25 0.15 0.2 0.1 0.25 0.2 0.3 0.15 0.2
2013 0.4 0.35 0.45 0.4 0.3 0.5 0.45 0.8 0.4 0.35
2014 -0.6 -0.5 -0.65 -0.55 -0.7 -0.6 -0.5 -0.65 -0.6 -0.55
2015 -2.1 -2.0 -2.2 -2.1 -2.3 -2.15 -1.9 -2.0 -2.2 -2.5
2016 -0.8 -1.3 -0.7 0.95 -0.8 -0.9 -0.6 -0.7 -0.85 -0.75
}\SPaso

% ---------------- observations: CHIRPS (C), GPCC (G), MSWEP (M) ----------------
\pgfplotstableread{
yr C G M
1993 1.30 1.42 1.35
1994 -0.20 -0.55 -0.70
1995 -0.40 -0.10 0.15
1996 0.37 0.73 0.57
1997 -0.08 0.02 -0.18
1998 -0.50 -0.33 -0.45
1999 -0.17 -0.12 -0.14
2000 0.03 0.26 -0.05
2001 -0.44 -0.26 -0.60
2002 0.84 0.19 0.68
2003 0.24 0.20 0.14
2004 0.47 0.90 1.00
2005 0.66 0.40 0.53
2006 0.68 -0.28 0.62
2007 -0.80 -0.37 -0.60
2008 0.76 1.03 0.26
2009 -0.34 -0.22 -0.16
2010 1.27 0.60 0.76
2011 0.31 0.24 0.16
2012 0.35 0.25 0.18
2013 -0.34 0.14 -0.05
2014 -1.31 -0.86 -2.67
2015 -1.38 -0.70 -0.68
2016 -0.37 -0.38 -0.36
}\NCmjjO
\pgfplotstableread{
yr C G M
1993 1.46 1.44 1.45
1994 -0.20 -0.70 -0.42
1995 0.19 0.50 0.68
1996 -0.33 -0.10 0.42
1997 0.55 0.68 0.42
1998 -0.21 -0.39 -0.54
1999 0.03 -0.05 -0.12
2000 -0.23 0.03 0.26
2001 -0.44 -0.20 0.21
2002 0.21 0.05 -0.07
2003 -0.05 -0.03 -0.07
2004 -0.23 -0.10 0.06
2005 0.62 0.38 0.45
2006 0.68 -0.49 0.60
2007 -0.33 0.10 0.19
2008 0.45 0.80 0.08
2009 -0.10 -0.39 -0.23
2010 1.20 1.07 0.73
2011 0.52 0.40 0.29
2012 -0.42 -0.28 -0.12
2013 0.31 0.24 0.11
2014 -1.25 -0.94 -2.94
2015 -1.56 -0.96 -0.98
2016 0.21 0.08 -0.04
}\NCjjaO
\pgfplotstableread{
yr C G M
1993 1.64 1.35 1.06
1994 -0.30 -0.14 -0.54
1995 0.16 0.13 0.73
1996 -0.49 -0.08 -0.20
1997 -0.35 -0.19 -0.57
1998 0.71 0.52 0.36
1999 0.28 0.10 -0.08
2000 0.05 0.21 0.54
2001 0.88 0.75 1.01
2002 -0.10 -0.10 -0.12
2003 -0.45 -0.19 -0.36
2004 -0.81 -0.90 -1.06
2005 0.60 0.58 0.55
2006 -0.50 -1.30 -0.68
2007 0.23 0.50 0.31
2008 0.83 1.27 1.05
2009 -0.94 -0.63 -0.21
2010 0.44 0.30 0.21
2011 0.70 0.52 -0.10
2012 -0.52 -0.34 -0.78
2013 0.75 -0.10 0.60
2014 0.26 0.31 -0.75
2015 -1.51 -1.00 -0.94
2016 -0.33 0.16 0.05
}\NCasoO
\pgfplotstableread{
yr C G M
1993 0.57 0.45 0.36
1994 -1.15 -1.35 -1.27
1995 0.02 0.16 -0.10
1996 0.47 0.57 0.70
1997 -0.31 -0.19 -0.42
1998 -0.68 -0.50 -0.39
1999 0.08 -0.18 0.23
2000 -0.03 0.34 0.15
2001 -0.57 -0.85 -0.29
2002 0.10 0.15 0.05
2003 0.05 0.33 0.16
2004 -0.26 -0.19 -0.33
2005 0.97 0.55 0.82
2006 0.76 0.60 0.68
2007 -0.74 -0.44 -0.63
2008 0.86 0.76 0.78
2009 0.16 0.31 -0.16
2010 2.07 1.28 1.58
2011 0.68 0.60 0.63
2012 -0.19 0.16 0.05
2013 0.10 -0.29 0.00
2014 -0.42 -0.47 -2.10
2015 -1.43 -1.10 -0.99
2016 -0.68 -0.52 -0.83
}\NPmjjO
\pgfplotstableread{
yr C G M
1993 0.48 0.58 0.40
1994 -1.01 -1.15 -1.06
1995 1.18 0.97 1.30
1996 0.37 0.62 0.19
1997 -0.12 0.05 -0.28
1998 -0.10 -0.12 -0.15
1999 0.34 0.25 0.14
2000 -0.60 -0.45 -0.23
2001 -0.70 -0.96 -0.46
2002 -0.47 -0.38 -0.44
2003 -0.10 0.17 -0.23
2004 -0.73 -0.85 -0.91
2005 1.10 0.71 0.97
2006 0.48 0.43 0.40
2007 0.14 0.31 -0.02
2008 1.00 0.90 0.83
2009 -0.62 -0.12 -0.33
2010 1.88 1.70 1.54
2011 0.81 0.94 0.68
2012 0.17 -0.10 0.05
2013 0.06 -0.10 -0.02
2014 -0.52 -0.75 -2.21
2015 -1.37 -1.48 -1.01
2016 -0.25 -0.30 -0.28
}\NPjjaO
\pgfplotstableread{
yr C G M
1993 0.27 0.28 0.26
1994 -0.96 -0.78 -0.65
1995 1.20 1.00 1.28
1996 -0.10 -0.26 0.05
1997 -0.68 -0.66 -0.69
1998 1.00 0.73 1.17
1999 0.73 0.60 0.89
2000 -0.21 0.20 0.05
2001 -0.33 -0.30 -0.29
2002 -0.50 -0.55 -0.57
2003 -0.47 -0.45 -0.48
2004 -0.78 -0.82 -0.85
2005 0.47 0.54 0.50
2006 -0.71 -0.65 -0.60
2007 0.81 0.96 0.73
2008 1.06 1.58 1.54
2009 -1.61 -1.23 -1.40
2010 0.55 0.50 0.44
2011 0.94 0.80 0.68
2012 -0.31 -0.08 -0.15
2013 0.52 0.48 0.42
2014 0.44 0.36 -0.81
2015 -0.89 -0.71 -0.63
2016 -0.54 -0.60 -0.58
}\NPasoO
\pgfplotstableread{
yr C G M
1993 -0.31 -0.50 -0.14
1994 0.31 0.49 0.16
1995 -0.10 0.00 0.75
1996 0.68 0.85 0.52
1997 0.05 -0.10 -0.31
1998 0.47 0.20 0.31
1999 -0.31 -0.47 0.45
2000 0.28 0.28 0.28
2001 -0.78 -1.00 -0.88
2002 0.26 0.65 0.45
2003 0.62 0.75 0.31
2004 0.75 0.47 0.91
2005 -0.80 -0.57 -0.19
2006 -0.28 -0.36 -0.21
2007 0.40 0.36 0.49
2008 0.36 0.21 0.52
2009 -0.07 0.78 0.03
2010 0.49 0.47 0.45
2011 0.10 0.00 0.23
2012 -0.24 0.12 -0.07
2013 -0.52 -0.68 -0.34
2014 -0.52 0.78 -3.10
2015 -0.68 -1.85 -0.47
2016 -0.26 -1.14 -0.19
}\SCmjjO
\pgfplotstableread{
yr C G M
1993 -0.28 -0.42 -0.18
1994 0.55 0.45 0.03
1995 0.03 0.35 1.13
1996 0.40 0.19 -0.04
1997 -0.63 -0.49 -0.75
1998 0.55 0.45 0.71
1999 0.45 0.19 0.63
2000 0.19 0.33 0.45
2001 0.03 0.01 0.05
2002 0.42 0.80 0.55
2003 0.26 0.20 0.14
2004 -0.23 -0.12 -0.05
2005 0.21 -0.23 0.08
2006 0.27 0.19 -0.02
2007 -0.28 -0.02 -0.15
2008 0.80 0.48 0.94
2009 -0.13 0.52 -0.18
2010 1.03 0.76 0.90
2011 -0.23 -0.15 -0.05
2012 -0.34 -0.15 0.05
2013 -0.49 -0.45 -0.39
2014 0.24 0.38 -2.97
2015 -1.17 -1.49 -0.73
2016 0.14 -1.05 -0.13
}\SCjjaO
\pgfplotstableread{
yr C G M
1993 0.31 0.08 -0.31
1994 0.16 0.12 -0.84
1995 0.30 0.14 0.74
1996 -0.12 0.14 -0.23
1997 -0.10 0.21 -0.67
1998 0.89 0.20 -0.54
1999 1.29 1.20 1.03
2000 -0.14 0.00 0.16
2001 -0.07 0.24 0.08
2002 0.40 0.48 0.42
2003 -0.10 0.08 0.42
2004 -0.25 0.14 0.08
2005 0.76 0.35 0.50
2006 -0.60 -0.65 -0.70
2007 0.55 0.66 0.60
2008 0.17 0.24 0.08
2009 -0.39 -0.10 -0.73
2010 0.45 0.90 0.60
2011 -0.23 -0.39 -0.02
2012 -0.81 -0.65 -0.28
2013 -0.42 -1.54 0.19
2014 0.60 0.55 -1.62
2015 -1.15 -0.45 -0.44
2016 0.08 -1.02 0.14
}\SCasoO
\pgfplotstableread{
yr C G M
1993 -0.46 -0.30 -0.20
1994 -0.45 0.45 -0.35
1995 0.31 0.56 0.92
1996 1.07 1.02 1.10
1997 -1.17 -0.88 -0.64
1998 -0.06 0.05 0.19
1999 0.31 0.58 0.71
2000 0.32 0.06 0.67
2001 -0.72 -0.62 -0.33
2002 -0.75 -0.48 -0.33
2003 0.88 0.85 0.40
2004 0.17 -0.02 0.40
2005 -0.15 0.20 -0.02
2006 0.33 0.25 0.17
2007 0.74 0.92 0.58
2008 0.74 0.70 0.60
2009 -0.23 0.10 0.29
2010 0.77 0.30 0.25
2011 0.17 0.01 0.25
2012 -0.18 -0.02 -0.44
2013 -0.25 -0.65 -0.35
2014 0.23 0.79 -3.08
2015 -1.17 -1.99 -1.19
2016 -0.69 -1.08 -0.22
}\SPmjjO
\pgfplotstableread{
yr C G M
1993 -0.18 -0.34 0.00
1994 0.00 -0.39 0.38
1995 1.08 0.82 0.55
1996 0.45 0.31 0.63
1997 -1.30 -1.07 -0.91
1998 0.63 0.80 0.52
1999 1.15 1.10 1.05
2000 -0.15 0.40 -0.23
2001 -0.34 -0.70 -0.10
2002 0.08 0.00 0.03
2003 0.55 0.69 0.40
2004 -0.34 -0.73 0.03
2005 0.42 0.14 0.29
2006 0.27 0.23 0.19
2007 0.66 0.85 0.48
2008 0.45 0.42 0.38
2009 -0.28 -0.36 -0.04
2010 1.57 1.08 0.87
2011 -0.02 0.42 0.08
2012 -0.49 -0.18 -0.34
2013 -0.10 -0.15 -0.02
2014 0.31 -0.44 -3.04
2015 -1.38 -1.15 -0.96
2016 -0.36 -1.05 -0.15
}\SPjjaO
\pgfplotstableread{
yr C G M
1993 -0.10 -0.08 -0.06
1994 -0.15 -0.31 0.10
1995 0.52 0.76 1.31
1996 -0.10 -0.25 -0.15
1997 -1.02 -0.95 -0.84
1998 0.66 0.65 0.67
1999 1.29 1.83 0.73
2000 -0.15 -0.20 0.52
2001 0.10 -0.15 0.35
2002 -0.54 -0.35 -0.45
2003 0.19 0.10 0.14
2004 0.12 0.15 0.19
2005 0.52 0.50 0.48
2006 -0.60 -0.62 -0.67
2007 1.15 1.47 0.87
2008 0.08 0.35 0.20
2009 -0.49 -0.65 -0.56
2010 0.87 0.76 0.24
2011 0.52 -0.39 0.03
2012 -0.54 -0.65 -0.60
2013 -1.19 -0.91 0.03
2014 -0.04 -0.28 -1.80
2015 -0.07 -0.55 -0.63
2016 -0.23 -0.54 0.21
}\SPasoO

\begin{document}
\begin{tikzpicture}
\path[use as bounding box] (0pt,0pt) rectangle (909pt,561.75pt);

% row 1: MJJ
\panel{36pt,379.5pt}{\NCmjj}{\NCmjjO}{title={North Caribbean}, leftcol}
\panel{253.125pt,379.5pt}{\NPmjj}{\NPmjjO}{title={North Pacific}}
\panel{470.25pt,379.5pt}{\SCmjj}{\SCmjjO}{title={South Caribbean}}
\panel{686.25pt,379.5pt}{\SPmjj}{\SPmjjO}{title={South Pacific}, rightcol=MJJ}
% row 2: JJA
\panel{36pt,219.375pt}{\NCjja}{\NCjjaO}{leftcol}
\panel{253.125pt,219.375pt}{\NPjja}{\NPjjaO}{}
\panel{470.25pt,219.375pt}{\SCjja}{\SCjjaO}{}
\panel{686.25pt,219.375pt}{\SPjja}{\SPjjaO}{rightcol=JJA}
% row 3: ASO
\panel{36pt,59.25pt}{\NCaso}{\NCasoO}{leftcol, bottomrow}
\panel{253.125pt,59.25pt}{\NPaso}{\NPasoO}{bottomrow}
\panel{470.25pt,59.25pt}{\SCaso}{\SCasoO}{bottomrow}
\panel{686.25pt,59.25pt}{\SPaso}{\SPasoO}{bottomrow, rightcol=ASO}

\node[rotate=90, font=\bfseries\fontsize{9.5}{11}\selectfont] at (13.5pt,297.75pt) {Total Seasonal Rainfall (Standard Anomaly)};

% legend: contributors
\node[anchor=west, font=\bfseries\fontsize{10}{12}\selectfont, inner sep=0pt] at (47.25pt,9pt) {Contributor};
\begin{axis}[at={(0pt,0pt)}, anchor=south west, scale only axis, width=909pt, height=561.75pt,
  hide axis, xmin=0, xmax=1, ymin=0, ymax=1,
  legend columns=5, legend cell align=left,
  legend image code/.code={\draw[#1, line width=0.9pt] (0pt,0pt) -- (10.5pt,0pt);},
  legend style={at={(0.1246,0.0334)}, anchor=north west, draw=none, fill=none, inner sep=0pt,
    font=\bfseries\fontsize{9.5}{11}\selectfont,
    nodes={inner xsep=3.5pt, inner ysep=1pt},
    row sep=1.5pt,
    /tikz/every even column/.append style={column sep=7pt}}]
\addlegendimage{mline, vCMCC}\addlegendentry{CMCC-Sys35}
\addlegendimage{mline, vECMWF}\addlegendentry{ECMWF-SEAS5}
\addlegendimage{mline, vUKMO}\addlegendentry{UKMO-Glosea6}
\addlegendimage{mline, vCOLA}\addlegendentry{COLA-CCSM4}
\addlegendimage{mline, vNASA}\addlegendentry{NASA-GEOSS2S}
\addlegendimage{mline, vDWD}\addlegendentry{DWD-Sys21}
\addlegendimage{mline, vMETEO}\addlegendentry{METEOFRANCE-Sys8}
\addlegendimage{mline, vCANSIPS}\addlegendentry{CANSIPS-IC3}
\addlegendimage{mline, vGFDL}\addlegendentry{GFDL-SPEAR}
\addlegendimage{mline, vNOAA}\addlegendentry{NOAA-CFSv2}
\end{axis}

% legend: observation type
\node[anchor=west, font=\bfseries\fontsize{10}{12}\selectfont, inner sep=0pt] at (622.5pt,13pt) {Observation Type};
\begin{axis}[at={(0pt,0pt)}, anchor=south west, scale only axis, width=909pt, height=561.75pt,
  hide axis, xmin=0, xmax=1, ymin=0, ymax=1,
  legend columns=3, legend cell align=left,
  legend style={at={(0.790,0.0334)}, anchor=north west, draw=none, fill=none, inner sep=0pt,
    font=\bfseries\fontsize{9.5}{11}\selectfont,
    nodes={inner xsep=3pt, inner ysep=1pt},
    /tikz/every even column/.append style={column sep=6pt}}]
\addlegendimage{only marks, mark=o, mark size=1.7pt, black!70, mark options={line width=0.5pt}}\addlegendentry{CHIRPS}
\addlegendimage{only marks, mark=triangle, mark size=2pt, black!70, mark options={line width=0.5pt}}\addlegendentry{GPCC}
\addlegendimage{only marks, mark=square, mark size=1.6pt, black!70, mark options={line width=0.5pt}}\addlegendentry{MSWEP}
\end{axis}
\end{tikzpicture}
\end{document}
